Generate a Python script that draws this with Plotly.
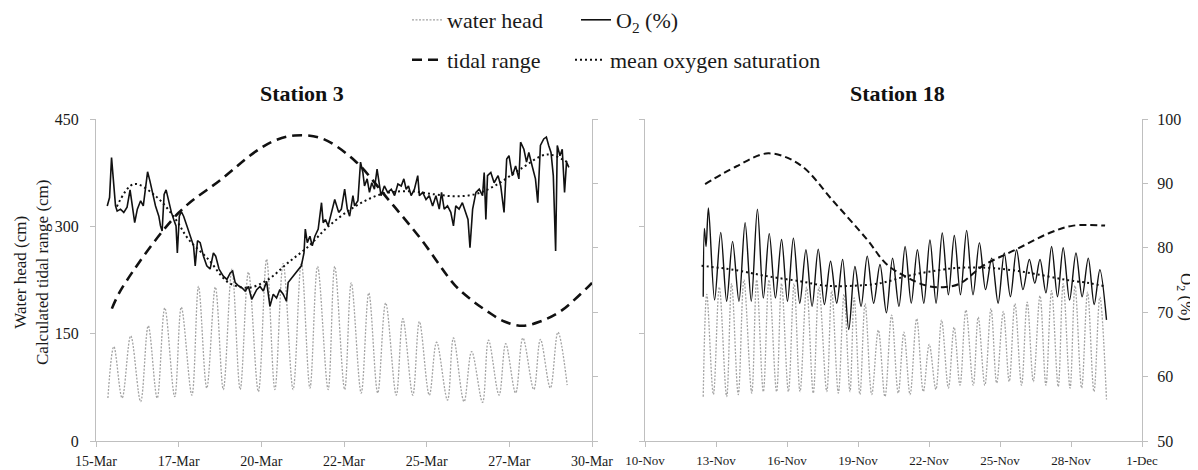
import numpy as np
import pandas as pd
import plotly.graph_objects as go

# ---------------- Station 3 (March) ----------------
s3_tick_days = [15, 17.5, 20, 22.5, 25, 27.5, 30]
s3_tick_labels = ["15-Mar", "17-Mar", "20-Mar", "22-Mar", "25-Mar", "27-Mar", "30-Mar"]

s3_wh_peak_day = [15.54, 16.05, 16.58, 17.08, 17.58, 18.10, 18.61, 19.11, 19.61, 20.16, 20.66, 21.21,
                  21.70, 22.22, 22.72, 23.25, 23.76, 24.28, 24.78, 25.30, 25.81, 26.36, 26.87, 27.39,
                  27.91, 28.44, 28.97]
s3_wh_peak_cm = [132, 147, 161, 186, 187, 216, 215, 240, 236, 254, 248, 250, 244, 244, 221, 207, 193,
                 171, 167, 138, 144, 125, 141, 136, 144, 142, 152]
s3_wh_low_day = [15.36, 15.79, 16.35, 16.85, 17.38, 17.90, 18.35, 18.85, 19.36, 19.91, 20.41, 20.96,
                 21.47, 22.02, 22.52, 23.02, 23.52, 24.08, 24.58, 25.08, 25.63, 26.13, 26.69, 27.19,
                 27.69, 28.24, 28.74, 29.25]
s3_wh_low_cm = [60, 60, 55, 60, 62, 64, 74, 72, 72, 69, 72, 72, 74, 72, 72, 67, 67, 64, 64, 64, 57, 55,
                54, 64, 67, 72, 74, 78]

s3_tidal_day = [15.48, 15.79, 17.50, 18.80, 19.81, 20.41, 21.01, 21.82, 22.82, 23.83, 24.83, 25.83,
                26.33, 26.84, 27.35, 27.89, 28.43, 29.04, 29.85, 30.0]
s3_tidal_cm = [185, 214, 319, 366, 404, 420, 427, 423, 392, 338, 282, 219, 198, 181, 167, 161, 167,
               181, 214, 221]

s3_o2_day = [15.34, 15.41, 15.47, 15.54, 15.59, 15.64, 15.74, 15.84, 15.94, 16.03, 16.11, 16.17, 16.25,
             16.35, 16.43, 16.50, 16.56, 16.63, 16.70, 16.80, 16.90, 16.95, 17.00, 17.06, 17.12, 17.20,
             17.28, 17.35, 17.42, 17.46, 17.52, 17.58, 17.65, 17.75, 17.85, 17.95, 18.00, 18.07, 18.15,
             18.25, 18.35, 18.45, 18.55, 18.62, 18.72, 18.85, 18.96, 19.06, 19.13, 19.21, 19.31, 19.41,
             19.51, 19.61, 19.71, 19.78, 19.86, 19.96, 20.06, 20.16, 20.26, 20.36, 20.46, 20.56, 20.66,
             20.76, 20.81, 20.96, 21.11, 21.21, 21.29, 21.33, 21.39, 21.47, 21.54, 21.62, 21.72, 21.82,
             21.87, 21.94, 22.02, 22.10, 22.22, 22.28, 22.34, 22.42, 22.52, 22.60, 22.67, 22.77, 22.82,
             22.92, 23.00, 23.07, 23.12, 23.20, 23.27, 23.34, 23.42, 23.50, 23.57, 23.62, 23.72, 23.82,
             23.93, 24.03, 24.13, 24.23, 24.31, 24.38, 24.45, 24.53, 24.63, 24.73, 24.78, 24.88, 24.98,
             25.08, 25.18, 25.28, 25.38, 25.45, 25.53, 25.63, 25.73, 25.81, 25.88, 25.98, 26.08, 26.18,
             26.25, 26.31, 26.39, 26.49, 26.59, 26.69, 26.74, 26.79, 26.84, 26.94, 27.04, 27.16, 27.24,
             27.34, 27.42, 27.49, 27.59, 27.69, 27.79, 27.84, 27.94, 28.02, 28.09, 28.19, 28.29, 28.36,
             28.44, 28.54, 28.62, 28.69, 28.76, 28.83, 28.90, 28.95, 29.03, 29.10, 29.17, 29.23, 29.30]
s3_o2_pct = [86.5, 87.8, 94.0, 89.1, 86.5, 85.7, 86.0, 85.5, 86.3, 89.0, 86.5, 83.9, 86.0,
             87.3, 86.5, 89.6, 91.8, 90.4, 88.6, 86.5, 84.9, 83.4, 82.6, 88.3, 89.0, 87.0,
             85.5, 84.4, 83.4, 79.2, 84.9, 85.6, 84.9, 83.4, 81.8, 80.3, 77.2, 81.1, 80.8,
             78.7, 77.2, 76.7, 79.2, 78.7, 76.7, 75.6, 75.1, 76.1, 76.4, 74.6, 74.1, 73.8,
             73.3, 74.0, 72.0, 72.7, 73.5, 74.0, 73.3, 74.8, 70.9, 72.8, 72.2, 73.5, 72.8,
             71.7, 74.6, 75.6, 76.6, 77.2, 79.2, 82.9, 80.8, 81.8, 80.3, 81.8, 82.9, 87.0,
             83.9, 84.4, 83.4, 84.9, 87.5, 86.5, 85.5, 86.0, 89.1, 86.0, 84.9, 88.1, 86.5,
             87.3, 93.3, 91.7, 89.6, 90.7, 88.6, 90.1, 89.1, 92.2, 89.6, 88.1, 89.6, 88.6,
             89.1, 88.1, 89.9, 89.6, 90.7, 89.1, 89.6, 88.1, 89.1, 91.2, 88.1, 88.6, 87.5,
             88.1, 86.5, 88.1, 86.0, 88.6, 86.0, 86.5, 85.5, 83.4, 86.5, 86.0, 87.0, 85.5,
             84.4, 80.0, 86.0, 88.6, 89.1, 88.1, 91.7, 84.4, 91.2, 91.7, 90.1, 91.2, 89.6,
             85.5, 93.8, 94.3, 91.2, 92.7, 90.7, 96.4, 95.3, 93.3, 94.8, 92.7, 90.7, 87.0,
             95.9, 96.9, 97.2, 95.9, 94.8, 91.2, 79.5, 95.9, 94.3, 95.3, 88.6, 93.3, 92.5]

s3_mean_day = [15.63, 16.14, 16.81, 17.41, 17.80, 18.40, 19.01, 19.61, 20.21, 20.81, 21.42, 22.02,
               22.83, 23.61, 24.43, 25.24, 25.84, 26.45, 27.05, 27.83, 28.64, 29.25]
s3_mean_pct = [86.4, 89.9, 88.0, 84.4, 81.3, 78.2, 74.6, 73.8, 75.1, 77.7, 80.2, 83.3, 86.4, 88.3,
               88.8, 88.3, 88.0, 88.3, 89.6, 92.2, 94.5, 93.3]

# ---------------- Station 18 (November) ----------------
s18_tick_days = [10, 13, 16, 19, 22, 25, 28, 31]
s18_tick_labels = ["10-Nov", "13-Nov", "16-Nov", "19-Nov", "22-Nov", "25-Nov", "28-Nov", "1-Dec"]

s18_wh_peak_day = [12.61, 13.14, 13.66, 14.18, 14.72, 15.24, 15.77, 16.30, 16.83, 17.35, 17.89, 18.41,
                   18.84, 19.30, 19.86, 20.42, 20.94, 21.48, 22.01, 22.53, 23.06, 23.56, 24.08, 24.62,
                   25.14, 25.63, 26.15, 26.69, 27.18, 27.67, 28.17, 28.70, 29.22]
s18_wh_peak_cm = [205, 215, 220, 225, 225, 225, 220, 220, 215, 215, 210, 205, 200, 192, 155, 176, 152,
                  171, 135, 169, 159, 183, 173, 185, 181, 192, 194, 203, 210, 220, 217, 208, 201]
s18_wh_low_day = [12.46, 12.89, 13.45, 13.94, 14.51, 15.00, 15.56, 16.06, 16.55, 17.11, 17.68, 18.17,
                  18.66, 19.08, 19.58, 20.14, 20.70, 21.20, 21.76, 22.29, 22.82, 23.31, 23.87, 24.36,
                  24.86, 25.39, 25.91, 26.41, 26.94, 27.46, 27.96, 28.45, 28.97, 29.50]
s18_wh_low_cm = [62, 65, 62, 65, 67, 69, 69, 69, 69, 67, 69, 67, 69, 65, 65, 62, 67, 65, 69, 72, 74,
                 78, 78, 78, 81, 83, 78, 83, 78, 76, 74, 74, 69, 58]

s18_tidal_day = [12.54, 13.87, 15.21, 16.55, 17.96, 19.37, 20.21, 21.06, 21.90, 22.60, 23.31, 24.29,
                 25.70, 27.11, 28.10, 29.44]
s18_tidal_cm = [359, 384, 402, 386, 335, 282, 247, 229, 217, 215, 220, 245, 268, 291, 301, 301]

s18_o2_peak_day = [12.46, 12.51, 12.58, 12.68, 13.20, 13.70, 14.23, 14.75, 15.25, 15.77, 16.27, 16.80,
                   17.32, 17.84, 18.35, 18.87, 19.39, 19.93, 20.46, 20.99, 21.51, 22.04, 22.56, 23.07,
                   23.59, 24.13, 24.65, 25.18, 25.70, 26.24, 26.69, 27.18, 27.67, 28.21, 28.73, 29.22]
s18_o2_peak_pct = [72.4, 83.0, 80.2, 86.2, 82.4, 81.0, 83.9, 86.0, 82.2, 81.3, 81.5, 79.7, 79.8, 77.9,
                   78.2, 77.1, 78.7, 77.4, 78.4, 80.2, 79.7, 81.2, 82.3, 81.9, 82.7, 80.8, 78.4, 79.2,
                   79.7, 78.2, 78.2, 80.2, 80.0, 79.2, 78.4, 76.6]
s18_o2_low_day = [12.94, 13.45, 13.97, 14.49, 15.00, 15.51, 16.02, 16.54, 17.06, 17.58, 18.10, 18.61,
                  19.13, 19.66, 20.20, 20.73, 21.25, 21.78, 22.30, 22.82, 23.33, 23.86, 24.39, 24.92,
                  25.44, 25.97, 26.47, 26.94, 27.43, 27.94, 28.47, 28.98, 29.50]
s18_o2_low_pct = [71.9, 71.7, 71.7, 71.7, 72.2, 72.2, 71.7, 71.4, 70.9, 71.2, 71.4, 67.3, 70.9, 71.4,
                  69.9, 70.9, 71.4, 71.4, 71.4, 72.7, 72.7, 72.7, 73.5, 71.4, 72.4, 73.5, 74.5, 73.0,
                  72.4, 71.9, 72.4, 71.2, 68.8]

s18_mean_day = [12.39, 13.73, 15.14, 16.55, 17.68, 18.80, 19.93, 21.06, 22.18, 23.31, 24.44, 25.56,
                26.69, 27.82, 28.80, 29.44]
s18_mean_pct = [77.2, 76.6, 75.6, 74.8, 74.1, 74.1, 74.5, 75.6, 76.4, 76.9, 76.9, 76.5, 75.8, 75.0,
                74.5, 74.0]


def mar(d):
    return pd.Timestamp("2012-03-01") + pd.to_timedelta(np.asarray(d, dtype=float) - 1, unit="D")


def nov(d):
    return pd.Timestamp("2012-11-01") + pd.to_timedelta(np.asarray(d, dtype=float) - 1, unit="D")


def merge(d1, v1, d2, v2):
    df = pd.DataFrame({"d": list(d1) + list(d2), "v": list(v1) + list(v2)}).sort_values("d")
    return df["d"].values, df["v"].values


# page body has an 8px margin: figure occupies page pixels 8..1198 x 8..470
W, H = 1190, 462
OFF = 8


def px(p):
    return (p - OFF) / W


def py(p):
    return (470 - p) / H


FONT = "Liberation Serif"
GRAY_AX = "#bfbfbf"
WH_COLOR = "#a3a3a3"
TXT = "#1a1a1a"

fig = go.Figure()

# Station 3 traces
d, v = merge(s3_wh_peak_day, s3_wh_peak_cm, s3_wh_low_day, s3_wh_low_cm)
fig.add_trace(go.Scatter(x=mar(d), y=v, mode="lines", name="water head", legend="legend", legendwidth=124,
                         line=dict(color=WH_COLOR, width=1.3, dash="2px,1.5px", shape="spline", smoothing=1.0),
                         xaxis="x", yaxis="y"))
fig.add_trace(go.Scatter(x=mar(s3_o2_day), y=s3_o2_pct, mode="lines", name="O<sub>2</sub> (%)",
                         legend="legend", legendwidth=200, line=dict(color="#111111", width=1.6),
                         xaxis="x", yaxis="y2"))
fig.add_trace(go.Scatter(x=mar(s3_tidal_day), y=s3_tidal_cm, mode="lines", name="tidal range",
                         legend="legend2", legendwidth=118,
                         line=dict(color="#111111", width=2.6, dash="10px,6px", shape="spline"),
                         xaxis="x", yaxis="y"))
fig.add_trace(go.Scatter(x=mar(s3_mean_day), y=s3_mean_pct, mode="lines", name="mean oxygen saturation",
                         legend="legend2", legendwidth=260,
                         line=dict(color="#111111", width=2.0, dash="2px,3px", shape="spline"),
                         xaxis="x", yaxis="y2"))

# Station 18 traces
d, v = merge(s18_wh_peak_day, s18_wh_peak_cm, s18_wh_low_day, s18_wh_low_cm)
fig.add_trace(go.Scatter(x=nov(d), y=v, mode="lines", showlegend=False,
                         line=dict(color=WH_COLOR, width=1.3, dash="2px,1.5px", shape="spline", smoothing=1.0),
                         xaxis="x2", yaxis="y3"))
fig.add_trace(go.Scatter(x=nov(s18_tidal_day), y=s18_tidal_cm, mode="lines", showlegend=False,
                         line=dict(color="#111111", width=2.0, dash="7px,4px", shape="spline"),
                         xaxis="x2", yaxis="y3"))
d, v = merge(s18_o2_peak_day, s18_o2_peak_pct, s18_o2_low_day, s18_o2_low_pct)
fig.add_trace(go.Scatter(x=nov(d), y=v, mode="lines", showlegend=False,
                         line=dict(color="#111111", width=1.4, shape="spline", smoothing=0.9),
                         xaxis="x2", yaxis="y4"))
fig.add_trace(go.Scatter(x=nov(s18_mean_day), y=s18_mean_pct, mode="lines", showlegend=False,
                         line=dict(color="#111111", width=2.0, dash="2px,3px", shape="spline"),
                         xaxis="x2", yaxis="y4"))

ydom = [py(441), py(119)]
ax = dict(showgrid=False, zeroline=False, showline=True, linecolor=GRAY_AX, linewidth=1,
          ticks="outside", tickcolor=GRAY_AX, ticklen=5, tickwidth=1, automargin=False)
tick_font_y = dict(family=FONT, size=16, color=TXT)
leg_common = dict(x=px(407), xanchor="left", yanchor="middle", orientation="h",
                  font=dict(family=FONT, size=22, color=TXT), bgcolor="rgba(0,0,0,0)",
                  itemwidth=30, tracegroupgap=0)

fig.update_layout(
    width=W, height=H,
    margin=dict(l=0, r=0, t=0, b=0, pad=0, autoexpand=False),
    paper_bgcolor="white", plot_bgcolor="white",
    font=dict(family=FONT, color=TXT),
    xaxis=dict(**ax, domain=[px(96), px(592)], anchor="y", type="date",
               range=[str(mar(15)), str(mar(30))],
               tickvals=list(mar(s3_tick_days)), ticktext=s3_tick_labels,
               tickfont=dict(family=FONT, size=14, color=TXT), ticklabelstandoff=2),
    yaxis=dict(**ax, domain=ydom, anchor="x", range=[0, 450], tickvals=[0, 150, 300, 450],
               tickfont=tick_font_y, ticklabelstandoff=8),
    yaxis2=dict(**ax, overlaying="y", anchor="x", side="right", range=[50, 100],
                tickvals=[50, 60, 70, 80, 90, 100], showticklabels=False),
    xaxis2=dict(**ax, domain=[px(645), px(1142)], anchor="y3", type="date",
                range=[str(nov(10)), str(nov(31))],
                tickvals=list(nov(s18_tick_days)), ticktext=s18_tick_labels,
                tickfont=dict(family=FONT, size=13, color=TXT), ticklabelstandoff=2),
    yaxis3=dict(**ax, domain=ydom, anchor="x2", range=[0, 450], tickvals=[0, 150, 300, 450],
                showticklabels=False),
    yaxis4=dict(**ax, overlaying="y3", anchor="x2", side="right", range=[50, 100],
                tickvals=[50, 60, 70, 80, 90, 100], tickfont=tick_font_y, ticklabelstandoff=6),
    legend=dict(**leg_common, y=py(20)),
    legend2=dict(**leg_common, y=py(60)),
    annotations=[
        dict(text="<b>Station 3</b>", x=px(302), y=py(93), xref="paper", yref="paper",
             xanchor="center", yanchor="middle", showarrow=False,
             font=dict(family=FONT, size=22, color="#111111")),
        dict(text="<b>Station 18</b>", x=px(897), y=py(93), xref="paper", yref="paper",
             xanchor="center", yanchor="middle", showarrow=False,
             font=dict(family=FONT, size=22, color="#111111")),
        dict(text="Water head (cm)<br>Calculated tidal range (cm)", textangle=-90,
             x=px(31), y=py(272), xref="paper", yref="paper", xanchor="center", yanchor="middle",
             showarrow=False, font=dict(family=FONT, size=17, color=TXT)),
        dict(text="O<sub>2</sub> (%)", textangle=90, x=px(1185), y=py(297),
             xref="paper", yref="paper", xanchor="center", yanchor="middle", showarrow=False,
             font=dict(family=FONT, size=17, color=TXT)),
    ],
)

fig.write_html("out.html")
